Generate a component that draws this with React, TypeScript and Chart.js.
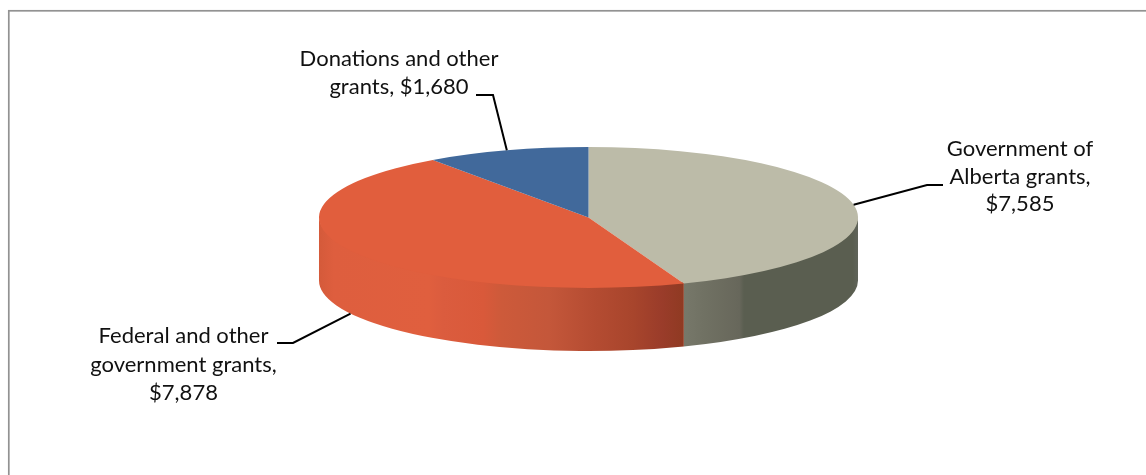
import React, { useEffect, useRef } from "react";
import Chart from "chart.js/auto";

// Grant revenue by source
const categories = [
  "Government of Alberta grants",
  "Federal and other government grants",
  "Donations and other grants",
];
const grantValues = [7585, 7878, 1680];
const sliceColors = ["#bcbba8", "#e15e3d", "#41699b"];

// How each data label wraps; {v} stands for the formatted value
const labelLines = [
  ["Government of", "Alberta grants,", "{v}"],
  ["Federal and other", "government grants,", "{v}"],
  ["Donations and other", "grants, {v}"],
];

const WIDTH = 1146;
const HEIGHT = 475;
const RADIUS_X = 269.5;
const RADIUS_Y = 70.5;
const DEPTH = 63;

// Label placement: text centre, first baseline, line spacing, leader elbow and leader end
const labelLayout = [
  { cx: 1020, y: 156, gap: 27.5, elbow: [927, 185], end: [943, 185], onSide: false },
  { cx: 183.5, y: 343, gap: 28.5, elbow: [293, 343], end: [277, 343], onSide: true },
  { cx: 399, y: 66, gap: 27.5, elbow: [493, 95], end: [476, 95], onSide: false },
];

// Shaded wall bands, as [fraction across the slice's wall, colour]
const wallStops: [number, string][][] = [
  [
    [0, "#77786a"],
    [0.12, "#707163"],
    [0.24, "#6b6b5e"],
    [0.32, "#67675b"],
    [0.345, "#5a5e50"],
    [0.97, "#5a5e50"],
    [1, "#60645a"],
  ],
  [
    [0, "#d45a3a"],
    [0.04, "#de5e3e"],
    [0.3, "#e05f3e"],
    [0.34, "#db5c3e"],
    [0.45, "#d9593a"],
    [0.5, "#cd5a3a"],
    [0.63, "#c4573a"],
    [0.75, "#b54c32"],
    [0.86, "#a8452c"],
    [0.94, "#9a3c2a"],
    [1, "#8f3a22"],
  ],
];

const squash = (ctx: CanvasRenderingContext2D, x: number, y: number) => {
  ctx.translate(x, y);
  ctx.scale(1, RADIUS_Y / RADIUS_X);
  ctx.translate(-x, -y);
};

const framePlugin = {
  id: "frame",
  beforeDraw(chart: any) {
    const { ctx } = chart;
    ctx.save();
    ctx.fillStyle = "#ffffff";
    ctx.fillRect(0, 0, WIDTH, HEIGHT);
    ctx.strokeStyle = "#929292";
    ctx.lineWidth = 1.7;
    ctx.strokeRect(8.8, 10.8, WIDTH + 20, HEIGHT + 20);
    ctx.restore();
  },
};

// Flattens the pie into an ellipse and builds the cylinder wall under it
const tiltPlugin = {
  id: "tilt",
  beforeDatasetDraw(chart: any, args: any) {
    const { ctx } = chart;
    const arcs = args.meta.data;
    const { x, y, outerRadius } = arcs[0].getProps(["x", "y", "outerRadius"], true);
    const ry = RADIUS_Y;
    arcs.forEach((arc: any, i: number) => {
      const { startAngle, endAngle } = arc.getProps(["startAngle", "endAngle"], true);
      const a0 = Math.max(startAngle, 0);
      const a1 = Math.min(endAngle, Math.PI);
      if (a1 <= a0 || !wallStops[i]) return;
      const xa = x + outerRadius * Math.cos(a0);
      const xb = x + outerRadius * Math.cos(a1);
      const grad = ctx.createLinearGradient(Math.min(xa, xb), 0, Math.max(xa, xb), 0);
      const stops = wallStops[i];
      stops.forEach(([p, c]) => {
        grad.addColorStop(p, c);
      });
      ctx.save();
      ctx.beginPath();
      ctx.ellipse(x, y + DEPTH, outerRadius, ry, 0, a0, a1, false);
      // The wall's upper edge tucks just under the top face to avoid a seam
      ctx.ellipse(x, y - 1.5, outerRadius, ry, 0, a1, a0, true);
      ctx.closePath();
      ctx.fillStyle = grad;
      ctx.fill();
      ctx.restore();
    });
    ctx.save();
    squash(ctx, x, y);
  },
  afterDatasetDraw(chart: any) {
    chart.ctx.restore();
  },
};

// Writes the data labels and their leader lines
const leaderPlugin = {
  id: "leaders",
  afterDraw(chart: any) {
    const { ctx } = chart;
    const arcs = chart.getDatasetMeta(0).data;
    ctx.save();
    arcs.forEach((arc: any, i: number) => {
      const { x, y, outerRadius, startAngle, endAngle } = arc.getProps(
        ["x", "y", "outerRadius", "startAngle", "endAngle"],
        true,
      );
      const mid = (startAngle + endAngle) / 2;
      const layout = labelLayout[i];
      const px = x + outerRadius * Math.cos(mid);
      const py = y + RADIUS_Y * Math.sin(mid) + (layout.onSide ? DEPTH : 0);
      ctx.beginPath();
      ctx.moveTo(px, py);
      ctx.lineTo(layout.elbow[0], layout.elbow[1]);
      ctx.lineTo(layout.end[0], layout.end[1]);
      ctx.strokeStyle = "#000000";
      ctx.lineWidth = 2;
      ctx.stroke();

      const formatted = "$" + grantValues[i].toLocaleString("en-US");
      ctx.font = "22px Lato";
      ctx.fillStyle = "#111111";
      ctx.textAlign = "center";
      ctx.textBaseline = "alphabetic";
      labelLines[i].forEach((line, n) => {
        ctx.fillText(line.replace("{v}", formatted), layout.cx, layout.y + n * layout.gap);
      });
    });
    ctx.restore();
  },
};

export default function App() {
  const canvasRef = useRef<HTMLCanvasElement>(null);

  useEffect(() => {
    const chart = new Chart(canvasRef.current!, {
      type: "pie",
      data: {
        labels: categories,
        datasets: [
          {
            data: grantValues,
            backgroundColor: sliceColors,
            borderWidth: 0,
            clip: false,
          } as any,
        ],
      },
      options: {
        animation: false,
        responsive: false,
        radius: RADIUS_X,
        layout: { padding: { left: 31, right: 0, top: 0, bottom: 40 } },
        events: [],
        plugins: { legend: { display: false }, tooltip: { enabled: false } },
      } as any,
      plugins: [framePlugin, tiltPlugin, leaderPlugin],
    });
    return () => chart.destroy();
  }, []);

  return (
    <canvas
      ref={canvasRef}
      width={WIDTH}
      height={HEIGHT}
      style={{ position: "fixed", left: 0, top: 0, display: "block" }}
    />
  );
}
